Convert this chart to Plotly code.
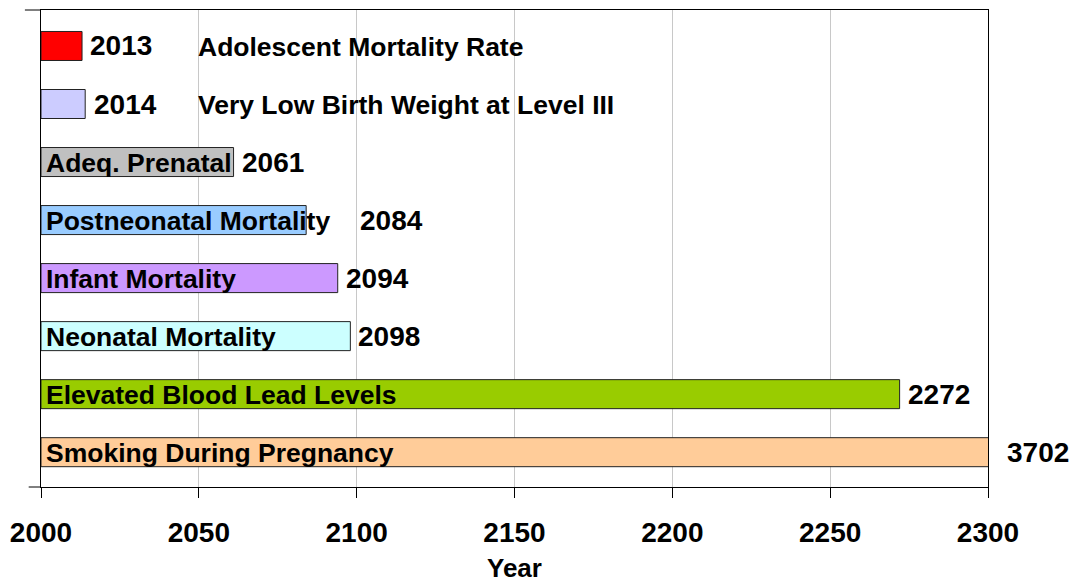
import plotly.graph_objects as go

# Data (bottom to top)
categories = [
    "Smoking During Pregnancy",
    "Elevated Blood Lead Levels",
    "Neonatal Mortality",
    "Infant Mortality",
    "Postneonatal Mortality",
    "Adeq. Prenatal",
    "Very Low Birth Weight at Level III",
    "Adolescent Mortality Rate",
]
years = [3702, 2272, 2098, 2094, 2084, 2061, 2014, 2013]
colors = ["#FFCC99", "#99CC00", "#CCFFFF", "#CC99FF", "#99CCFF", "#C0C0C0", "#CCCCFF", "#FF0000"]
tick_vals = [2000, 2050, 2100, 2150, 2200, 2250, 2300]
base_year = 2000
x_max = 2300

# style: label placement (inside bar at axis start, or outside at 2050)
label_inside = [True, True, True, True, True, True, False, False]
value_xshift = [17, 6, 6, 6, 52, 6, 7, 6]

FONT = "Liberation Sans, Arial, sans-serif"

fig = go.Figure()
fig.add_trace(go.Bar(
    y=categories,
    x=[v - base_year for v in years],
    base=base_year,
    orientation="h",
    width=0.5,
    marker=dict(color=colors, line=dict(color="#222222", width=1)),
    hoverinfo="skip",
))

annotations = []
for cat, val, inside, xs in zip(categories, years, label_inside, value_xshift):
    annotations.append(dict(
        x=base_year if inside else 2050, y=cat, xref="x", yref="y",
        text=cat, showarrow=False, xanchor="left", yanchor="middle",
        xshift=3 if inside else -3, yshift=-1,
        font=dict(family=FONT, size=26.5, color="black", weight="bold"),
    ))
    annotations.append(dict(
        x=min(val, x_max), y=cat, xref="x", yref="y",
        text=str(val), showarrow=False, xanchor="left", yanchor="middle",
        xshift=xs,
        font=dict(family=FONT, size=28, color="black", weight="bold"),
    ))

annotations.append(dict(
    x=0.5, y=0, xref="paper", yref="paper", text="Year", showarrow=False,
    xanchor="center", yanchor="top", yshift=-64,
    font=dict(family=FONT, size=26, color="black", weight="bold"),
))

fig.update_layout(
    width=1073, height=580,
    margin=dict(l=41, r=85, t=10, b=93),
    paper_bgcolor="white", plot_bgcolor="white",
    showlegend=False,
    annotations=annotations,
    xaxis=dict(
        range=[base_year, x_max], tickvals=tick_vals,
        ticks="outside", ticklen=10, tickcolor="black", tickwidth=1,
        showline=True, linecolor="black", linewidth=1, mirror=True,
        showgrid=True, gridcolor="#C8C8C8", gridwidth=1,
        zeroline=False,
        tickfont=dict(family=FONT, size=28, color="black", weight="bold"),
        ticklabelstandoff=10,
        automargin=False,
    ),
    yaxis=dict(
        type="category", categoryorder="array", categoryarray=categories,
        range=[-0.6, 7.62],
        showticklabels=False,
        tickvals=[], ticks="",
        showline=True, linecolor="black", linewidth=1, mirror=True,
        showgrid=False, zeroline=False,
        automargin=False,
    ),
)

fig.add_shape(type="line", xref="paper", yref="paper", x0=-0.017, x1=0, y0=1, y1=1,
              line=dict(color="black", width=1))
fig.add_shape(type="line", xref="paper", yref="paper", x0=-0.013, x1=0, y0=0, y1=0,
              line=dict(color="black", width=1))

fig.write_html("out.html", config={"displayModeBar": False},
               post_script="document.body.style.margin='0';document.body.style.padding='0';")
